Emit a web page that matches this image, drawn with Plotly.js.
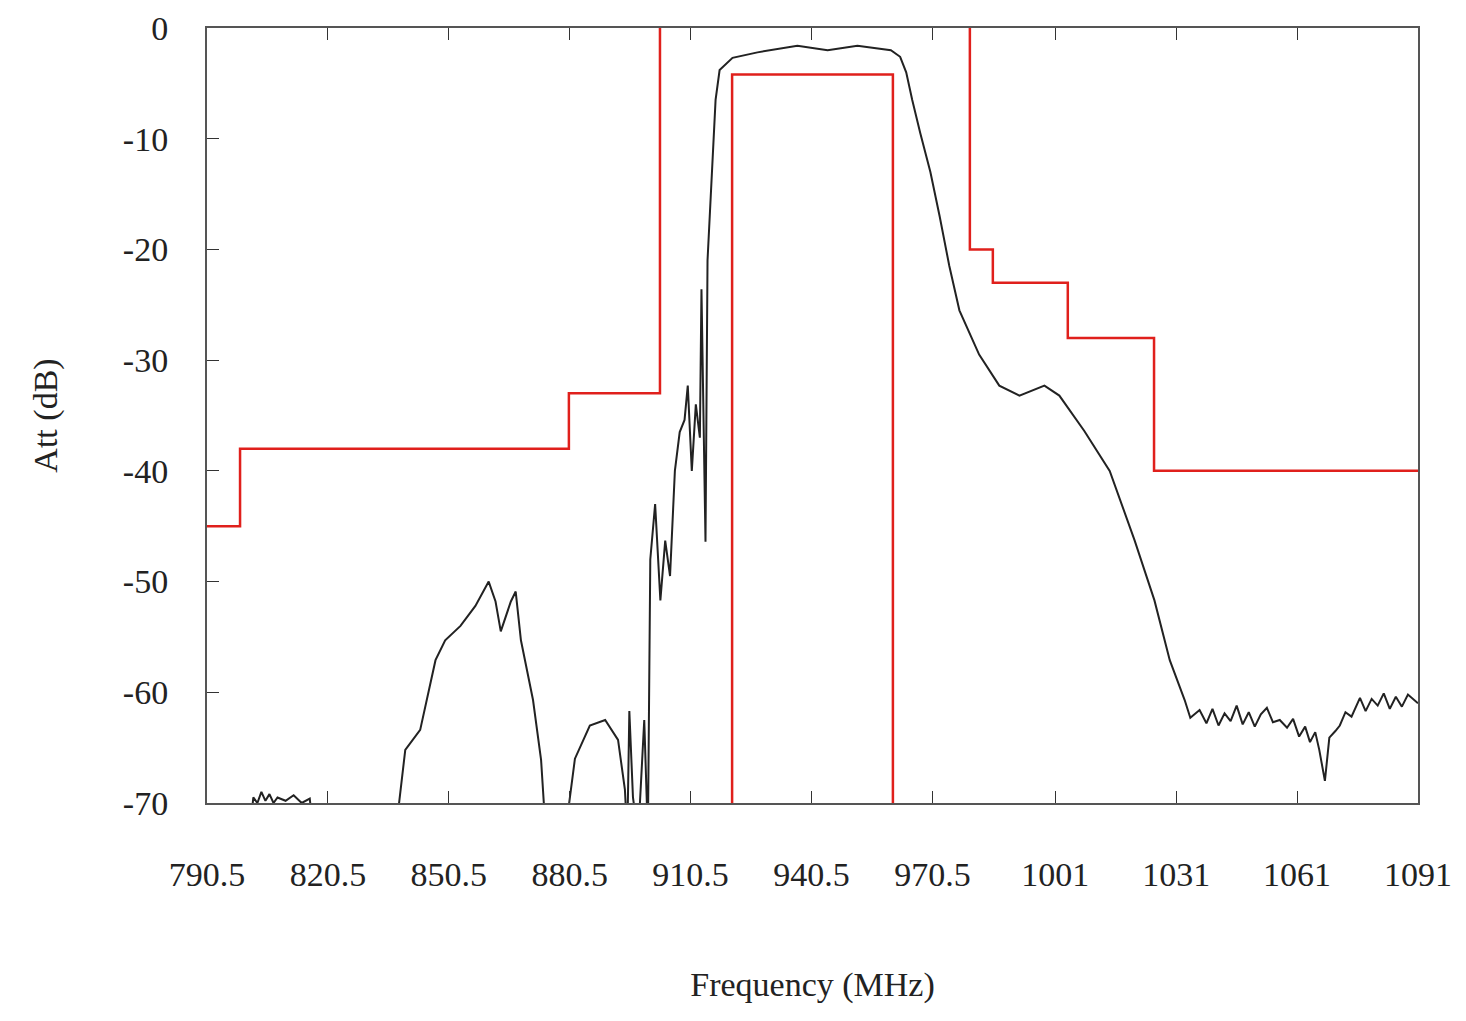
<!DOCTYPE html>
<html>
<head>
<meta charset="utf-8">
<script src="https://cdn.plot.ly/plotly-3.0.1.min.js"></script>
<style>body{margin:0;background:#fff}#chart{width:1466px;height:1021px}</style>
</head>
<body>
<div id="chart"></div>
<script>
const respFreq = [790.5, 801, 802, 803, 804, 805, 806, 807, 808, 810, 812, 814, 816, 817,
  837.2, 839.7, 843.4, 847.2, 849.6, 853.4, 857.1, 860.4, 862.1, 863.4, 865.9, 867.1, 868.4, 871.4, 873.4, 874.6,
  879.3, 881.8, 885.5, 889.3, 892.5, 894.2, 894.8, 895.3, 896.2, 897.5, 899, 899.9,
  900.5, 901.7, 903, 904.2, 905.4, 906.6, 907.8, 909, 909.8, 910.8, 911.8, 912.8, 913.2, 914.2, 914.7,
  916, 916.7, 917.7, 920.9, 927.1, 937, 944.5, 951.9, 960.2, 962.5, 964, 965.5, 967.5, 970, 972.3, 974.7, 977.2,
  982.1, 987.1, 992.1, 998.3, 1002, 1008.2, 1014.5, 1020.7, 1025.6, 1029.4, 1033.1, 1034.5, 1036.8,
  1038.5, 1040, 1041.5, 1043, 1044.5, 1046, 1047.5, 1049, 1050.5, 1052, 1053.5, 1055, 1056.7,
  1058.5, 1060, 1061.5, 1063, 1064.2, 1065.5, 1066.5, 1067.9, 1069, 1070.5, 1071.6, 1073, 1074.5, 1076.6,
  1078, 1079.5, 1081, 1082.5, 1084, 1085.5, 1087, 1088.5, 1091];
const respAtt = [-73, -73, -69.5, -70, -69, -69.8, -69.2, -70, -69.5, -69.8, -69.3, -70, -69.6, -73,
  -73, -65.2, -63.4, -57.1, -55.3, -54, -52.2, -50, -51.8, -54.5, -51.8, -50.9, -55.3, -60.7, -66.1, -73,
  -73, -66, -63, -62.5, -64.3, -68.8, -73, -61.7, -69.5, -73, -62.5, -73,
  -48, -43, -51.7, -46.3, -49.5, -40, -36.5, -35.4, -32.3, -40, -34, -37, -23.6, -46.4, -21,
  -11, -6.5, -3.8, -2.7, -2.2, -1.6, -2, -1.6, -2, -2.6, -4, -6.5, -9.5, -13, -17, -21.5, -25.5,
  -29.5, -32.3, -33.2, -32.3, -33.2, -36.4, -40, -46.3, -51.7, -57.1, -60.7, -62.3, -61.6,
  -62.8, -61.5, -63, -61.9, -62.6, -61.2, -62.9, -61.8, -63.1, -62, -61.4, -62.7, -62.5,
  -63.2, -62.4, -64, -63.1, -64.5, -63.6, -65.2, -68, -64.1, -63.5, -63, -61.8, -62.2, -60.5,
  -61.7, -60.6, -61.2, -60.1, -61.5, -60.4, -61.3, -60.2, -61];

// specification mask
const maskLoFreq = [790.5, 798.7, 798.7, 880.3, 880.3, 902.9, 902.9];
const maskLoAtt = [-45, -45, -38, -38, -33, -33, 5];
const maskMidFreq = [920.8, 920.8, 960.7, 960.7];
const maskMidAtt = [-75, -4.2, -4.2, -75];
const maskHiFreq = [979.8, 979.8, 985.5, 985.5, 1004.1, 1004.1, 1025.5, 1025.5, 1091];
const maskHiAtt = [5, -20, -20, -23, -23, -28, -28, -40, -40];

const tickVals = [790.5, 820.5, 850.5, 880.5, 910.5, 940.5, 970.5, 1001, 1031, 1061, 1091];
const yTickVals = [0, -10, -20, -30, -40, -50, -60, -70];

const red = {color: '#e0201c', width: 2.5};
const data = [
  {x: respFreq, y: respAtt, type: 'scatter', mode: 'lines', line: {color: '#222', width: 2}},
  {x: maskLoFreq, y: maskLoAtt, type: 'scatter', mode: 'lines', line: red},
  {x: maskMidFreq, y: maskMidAtt, type: 'scatter', mode: 'lines', line: red},
  {x: maskHiFreq, y: maskHiAtt, type: 'scatter', mode: 'lines', line: red}
];

const layout = {
  width: 1466, height: 1021,
  margin: {l: 207, r: 48, t: 28, b: 218},
  showlegend: false,
  paper_bgcolor: '#fff', plot_bgcolor: '#fff',
  font: {family: 'Liberation Serif, serif', size: 34, color: '#222'},
  xaxis: {
    range: [790.5, 1091], tickvals: tickVals, ticktext: tickVals.map(String),
    ticks: 'inside', ticklen: 12, tickcolor: '#333', showgrid: false, zeroline: false,
    showline: true, linecolor: '#555', linewidth: 2, mirror: 'ticks', ticklabelstandoff: 40,
    title: {text: 'Frequency (MHz)', standoff: 80, font: {size: 34}}
  },
  yaxis: {
    range: [-70, 0], tickvals: yTickVals, ticktext: yTickVals.map(String),
    ticks: 'inside', ticklen: 12, tickcolor: '#333', ticklabelstandoff: 30,
    showgrid: false, zeroline: false, showline: true, linecolor: '#555', linewidth: 2, mirror: true,
    title: {text: 'Att (dB)', standoff: 55, font: {size: 34}}
  }
};

Plotly.newPlot('chart', data, layout, {displayModeBar: false});
</script>
</body>
</html>
